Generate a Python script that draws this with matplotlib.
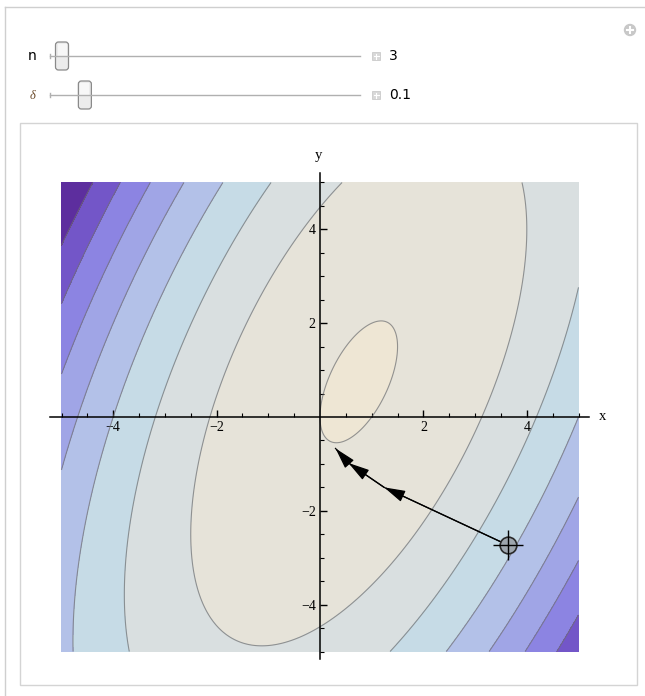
import numpy as np
import matplotlib
matplotlib.use('Agg')
import matplotlib.pyplot as plt
from matplotlib.patches import Rectangle, FancyBboxPatch, Circle

# function shown by the contour plot: a*x^2 + b*x*y + c*y^2 + d*x + e*y
quad_coef = [3.0, -2.0, 1.0, -3.0, 0.0]
plot_range = [-5.0, 5.0]
contour_levels = [0, 20, 40, 60, 80, 100, 120, 140]
band_colors = ['#eee6d4', '#e6e3d9', '#d9dfe0', '#c6dbe6', '#b3c1e8',
               '#a0a5e6', '#8c84e2', '#7356c8', '#5d2e9e']

# descent path
path_x = [3.63, 1.24, 0.55, 0.30]
path_y = [-2.73, -1.50, -0.98, -0.67]

major_ticks = [-4, -2, 2, 4]
tick_labels = ['\u22124', '\u22122', '2', '4']
minor_ticks = [v for v in np.arange(-5, 5.01, 0.5) if v != 0]

slider_names = ['n', '\u03b4']
slider_values = ['3', '0.1']
slider_pos = [0.0, 0.08]   # fraction of the track

W, H = 645, 696
fig = plt.figure(figsize=(W / 100, H / 100), dpi=100)
fig.patch.set_facecolor('white')

# ---- interface chrome, in pixel coordinates ----
ui = fig.add_axes([0, 0, 1, 1])
ui.set_xlim(0, W)
ui.set_ylim(H, 0)
ui.axis('off')
ui.plot([5, W], [7, 7], color='#cfcfcf', lw=1)
ui.plot([5, 5], [7, H], color='#cfcfcf', lw=1)
ui.add_patch(Rectangle((20, 123), 617, 562, fill=False, ec='#d4d4d4', lw=1))
ui.add_patch(Circle((630, 30), 5.5, color='#c8c8c8'))
ui.plot([627, 633], [30, 30], color='white', lw=1.5)
ui.plot([630, 630], [27, 33], color='white', lw=1.5)

track_x0, track_x1 = 50, 360
for i, (name, val, pos) in enumerate(zip(slider_names, slider_values, slider_pos)):
    yy = 56 + i * 39
    if i == 0:
        ui.text(32, yy, name, fontsize=10, family='DejaVu Sans', va='center', ha='center')
    else:
        ui.text(32, yy + 1, name, fontsize=9, family='Liberation Serif', style='italic',
                color='#6b4a2a', va='center', ha='center')
    ui.plot([track_x0, track_x1], [yy, yy], color='#b0b0b0', lw=1)
    ui.plot([track_x0, track_x0], [yy - 2, yy + 2], color='#b0b0b0', lw=1)
    tx = track_x0 + 12 + pos * (track_x1 - track_x0 - 24)
    ui.add_patch(FancyBboxPatch((tx - 6.5, yy - 14), 13, 28,
                                boxstyle='round,pad=0,rounding_size=3',
                                fc='#ececec', ec='#8a8a8a', lw=0.9))
    ui.add_patch(Rectangle((tx - 4.5, yy - 12), 9, 12, fc='#f7f7f7', ec='none'))
    ui.add_patch(Rectangle((372, yy - 4), 8, 8, fc='#d8d8d8', ec='#c4c4c4', lw=0.5))
    ui.plot([373.5, 378.5], [yy, yy], color='white', lw=0.8)
    ui.plot([376, 376], [yy - 2.5, yy + 2.5], color='white', lw=0.8)
    ui.text(389, yy, val, fontsize=10, family='DejaVu Sans', va='center', ha='left')

# ---- contour plot ----
px_left, px_right, px_top, px_bot = 40, 590, 165, 665
ox, oy = 320, 417          # pixel of the origin
sx, sy = 51.7, 46.9        # pixels per unit
ax = fig.add_axes([px_left / W, 1 - px_bot / H, (px_right - px_left) / W, (px_bot - px_top) / H])
ax.patch.set_alpha(0)
ax.set_xlim((px_left - ox) / sx, (px_right - ox) / sx)
ax.set_ylim((oy - px_bot) / sy, (oy - px_top) / sy)

g = np.linspace(plot_range[0], plot_range[1], 400)
X, Y = np.meshgrid(g, g)
a, b, c, d, e = quad_coef
Z = a * X**2 + b * X * Y + c * Y**2 + d * X + e * Y
fill_levels = [Z.min() - 1] + contour_levels + [Z.max() + 1]
ax.contourf(X, Y, Z, levels=fill_levels, colors=band_colors, zorder=1)
ax.contour(X, Y, Z, levels=contour_levels, colors='#6f6f6f', linewidths=0.8,
           alpha=0.7, zorder=2)

# axes through the origin
for side in ['top', 'right']:
    ax.spines[side].set_visible(False)
ax.spines['bottom'].set_position(('data', 0))
ax.spines['left'].set_position(('data', 0))
ax.spines['bottom'].set_bounds(-5.23, 5.2)
ax.spines['left'].set_bounds(-5.17, 5.2)
for side in ['bottom', 'left']:
    ax.spines[side].set_linewidth(1.1)
    ax.spines[side].set_zorder(5)
ax.set_xticks(major_ticks)
ax.set_xticklabels(tick_labels)
ax.set_yticks(major_ticks)
ax.set_yticklabels(tick_labels)
ax.set_xticks(minor_ticks, minor=True)
ax.set_yticks(minor_ticks, minor=True)
ax.tick_params(which='major', direction='in', length=5, width=1, pad=3,
               labelsize=10)
ax.tick_params(which='minor', direction='in', length=3.2, width=0.8)
for lab in ax.get_xticklabels() + ax.get_yticklabels():
    lab.set_family('Liberation Serif')
fig.text(603 / W, 1 - 417 / H, 'x', fontsize=10.5, family='Liberation Serif',
         ha='center', va='center')
fig.text(318 / W, 1 - 156 / H, 'y', fontsize=10.5, family='Liberation Serif',
         ha='center', va='center')

# descent path with arrowheads
ax.plot(path_x, path_y, color='black', lw=0.9, zorder=6)
for i in range(len(path_x) - 1):
    ax.annotate('', xy=(path_x[i + 1], path_y[i + 1]), xytext=(path_x[i], path_y[i]),
                arrowprops=dict(arrowstyle='-|>,head_length=1.0,head_width=0.28',
                                color='black', lw=0.9, mutation_scale=13,
                                shrinkA=0, shrinkB=0), zorder=7)

# locator at the start point
ax.plot(path_x[0], path_y[0], 'o', ms=12, mfc='#9ea6ae', mec='#2a2a2a', mew=1.2, zorder=8)
ax.plot(path_x[0], path_y[0], '+', ms=22, color='black', mew=1.0, zorder=9)

fig.savefig('out.png', dpi=100)
